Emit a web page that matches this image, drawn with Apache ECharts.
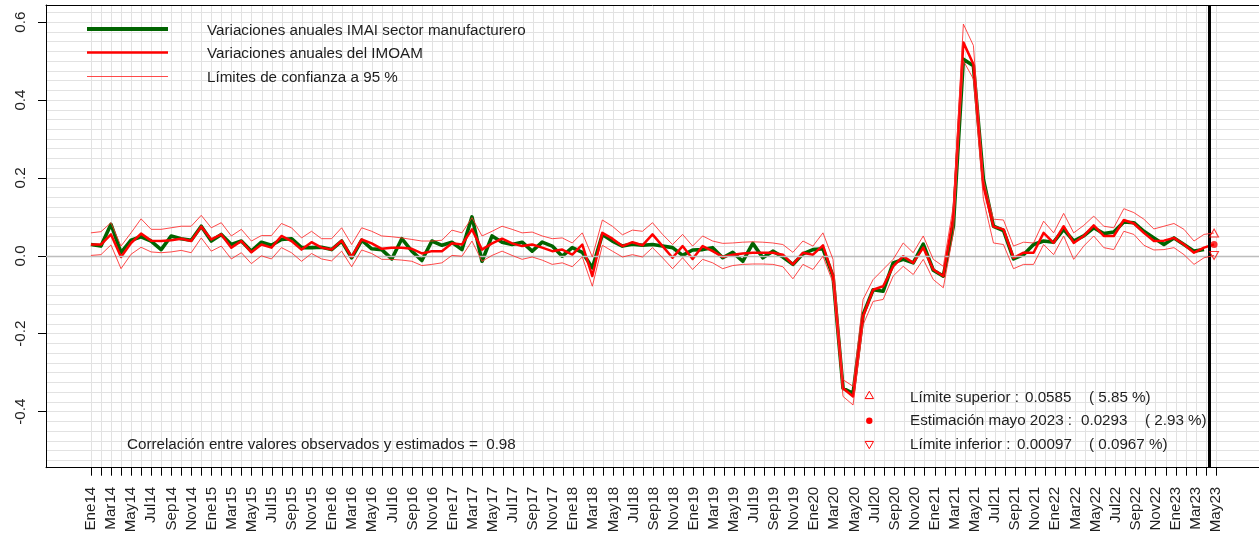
<!DOCTYPE html>
<html>
<head>
<meta charset="utf-8">
<script src="https://cdn.jsdelivr.net/npm/echarts@6/dist/echarts.min.js"></script>
<style>
html,body{margin:0;padding:0;background:#fff;}
#chart{width:1259px;height:537px;}
</style>
</head>
<body>
<div id="chart"></div>
<script>
// ---- Data (monthly, Ene 2014 .. May 2023) ----
const monthNames = ['Ene','Feb','Mar','Abr','May','Jun','Jul','Ago','Sep','Oct','Nov','Dic'];
const firstYear = 14;
const nMonths = 113;

// Variaciones anuales IMAI sector manufacturero (observed, Ene14..Abr23)
const imai = [
 0.029,0.025,0.081,0.008,0.040,0.049,0.038,0.016,0.051,0.044,0.040,0.076,
 0.038,0.055,0.029,0.038,0.012,0.035,0.027,0.042,0.044,0.021,0.021,0.022,
 0.016,0.038,-0.005,0.040,0.018,0.016,-0.008,0.044,0.012,-0.012,0.038,0.027,
 0.035,0.016,0.100,-0.014,0.051,0.035,0.029,0.035,0.012,0.035,0.025,-0.001,
 0.021,0.009,-0.031,0.055,0.038,0.025,0.030,0.027,0.029,0.025,0.021,0.001,
 0.015,0.016,0.021,-0.005,0.009,-0.014,0.032,-0.005,0.012,-0.003,-0.022,0.005,
 0.016,0.018,-0.052,-0.340,-0.353,-0.151,-0.087,-0.091,-0.018,-0.009,-0.018,0.030,
 -0.037,-0.052,0.076,0.505,0.488,0.196,0.076,0.065,-0.008,0.003,0.029,0.038,
 0.035,0.068,0.038,0.051,0.072,0.057,0.061,0.087,0.085,0.063,0.046,0.029,
 0.046,0.029,0.012,0.016
];

// Variaciones anuales del IMOAM (estimated, Ene14..May23)
const imoam = [
 0.029,0.029,0.055,-0.003,0.033,0.057,0.039,0.038,0.040,0.044,0.038,0.075,
 0.042,0.055,0.021,0.038,0.009,0.029,0.021,0.051,0.038,0.016,0.035,0.021,
 0.016,0.039,-0.003,0.042,0.032,0.018,0.021,0.021,0.018,0.006,0.012,0.012,
 0.032,0.029,0.068,0.016,0.032,0.044,0.032,0.025,0.029,0.021,0.012,0.016,
 0.003,0.029,-0.052,0.059,0.044,0.025,0.035,0.027,0.055,0.025,-0.005,0.025,
 -0.008,0.025,0.012,-0.003,0.003,0.006,0.008,0.008,0.008,0.003,-0.022,0.008,
 0.003,0.027,-0.052,-0.340,-0.361,-0.155,-0.087,-0.078,-0.027,-0.001,-0.018,0.021,
 -0.035,-0.052,0.102,0.548,0.492,0.179,0.075,0.068,-0.005,0.008,0.008,0.059,
 0.033,0.076,0.033,0.051,0.078,0.051,0.051,0.092,0.083,0.059,0.038,0.039,
 0.046,0.029,0.008,0.021,0.0293
];

// Límites de confianza a 95 %
const upper = [
 0.059,0.062,0.085,0.025,0.059,0.095,0.068,0.068,0.072,0.076,0.076,0.104,
 0.072,0.085,0.051,0.068,0.038,0.052,0.052,0.083,0.072,0.046,0.063,0.044,
 0.044,0.072,0.029,0.072,0.063,0.051,0.049,0.046,0.042,0.038,0.038,0.040,
 0.066,0.059,0.098,0.051,0.063,0.076,0.068,0.059,0.061,0.051,0.044,0.046,
 0.033,0.059,-0.003,0.092,0.076,0.054,0.066,0.063,0.085,0.055,0.029,0.055,
 0.025,0.051,0.038,0.032,0.033,0.035,0.036,0.035,0.033,0.029,0.009,0.038,
 0.025,0.059,-0.009,-0.318,-0.335,-0.112,-0.061,-0.035,-0.009,0.033,0.008,0.051,
 -0.009,-0.027,0.128,0.595,0.540,0.196,0.094,0.092,0.025,0.035,0.033,0.089,
 0.059,0.109,0.059,0.078,0.102,0.076,0.072,0.121,0.111,0.094,0.069,0.076,
 0.083,0.068,0.038,0.055,0.0585
];
const lower = [
 0.001,0.003,0.028,-0.033,0.004,0.022,0.010,0.008,0.010,0.014,0.008,0.046,
 0.012,0.025,-0.008,0.008,-0.020,0.000,-0.008,0.021,0.008,-0.014,0.006,-0.008,
 -0.013,0.012,-0.028,0.015,0.006,-0.009,-0.009,-0.011,-0.014,-0.025,-0.022,-0.018,
 0.001,-0.001,0.038,-0.014,0.001,0.012,0.001,-0.009,-0.003,-0.011,-0.022,-0.018,
 -0.028,-0.003,-0.078,0.027,0.012,-0.003,0.003,-0.003,0.021,-0.005,-0.033,-0.005,
 -0.035,-0.009,-0.018,-0.033,-0.025,-0.022,-0.021,-0.021,-0.022,-0.028,-0.059,-0.022,
 -0.035,-0.001,-0.069,-0.361,-0.383,-0.177,-0.117,-0.112,-0.052,-0.027,-0.048,-0.009,
 -0.061,-0.082,0.059,0.501,0.454,0.145,0.033,0.029,-0.033,-0.022,-0.022,0.029,
 0.003,0.051,-0.009,0.025,0.051,0.021,0.016,0.063,0.055,0.027,0.015,0.016,
 0.021,0.003,-0.022,-0.005,0.00097
];

// Estimate for mayo 2023
const estimate = { upper: 0.0585, value: 0.0293, lower: 0.00097 };
const yTicks = [-0.4, -0.2, 0.0, 0.2, 0.4, 0.6];
const correlation = 0.98;

// ---- Build labels ----
const monthLabels = [];
for (let i = 0; i < nMonths; i++) {
  monthLabels.push(monthNames[i % 12] + String(firstYear + Math.floor(i / 12)));
}
const toPairs = arr => arr.map((v, i) => [i, v]);
const lastIdx = nMonths - 1;

const FONT = '"Liberation Sans", Arial, Helvetica, sans-serif';
const FS = 15.2;
const FONTSTR = FS + 'px ' + FONT;
const TXT = '#1e1e1e';
const GRIDC = '#e2e2e2';

// Layout (pixels)
const L = 46, T = 5, PW = 1215, PH = 462.7;
const xMin = -4.48, xMax = 116.48;
const yMin = -0.544, yMax = 0.644;
const pxPerX = PW / (xMax - xMin);
const pxPerY = PH / (yMax - yMin);
const xPix = v => L + (v - xMin) * pxPerX;
const yPix = v => T + (yMax - v) * pxPerY;

const chart = echarts.init(document.getElementById('chart'), null, { renderer: 'canvas' });

const txt = (x, y, s) => ({ type: 'text', x: x, y: y, z: 100,
  style: { text: s, font: FONTSTR, fill: TXT, verticalAlign: 'middle' } });

const option = {
  animation: false,
  backgroundColor: '#ffffff',
  grid: [
    { left: L, top: T, width: PW, height: PH, containLabel: false },
    { left: xPix(0), top: T, width: xPix(lastIdx) - xPix(0), height: PH, containLabel: false },
    { left: L, top: yPix(0.625), width: PW, height: yPix(-0.525) - yPix(0.625), containLabel: false }
  ],
  xAxis: [
    { gridIndex: 0, type: 'value', min: xMin, max: xMax, position: 'bottom',
      axisLine: { show: true, onZero: false, lineStyle: { color: '#000', width: 1 } },
      axisTick: { show: false }, axisLabel: { show: false }, splitLine: { show: false } },
    { gridIndex: 0, type: 'value', min: xMin, max: xMax, position: 'top',
      axisLine: { show: true, onZero: false, lineStyle: { color: '#000', width: 1 } },
      axisTick: { show: false }, axisLabel: { show: false }, splitLine: { show: false } },
    { gridIndex: 1, type: 'value', min: 0, max: lastIdx, interval: 1, position: 'bottom',
      axisLine: { show: false, onZero: false },
      axisTick: { show: true, length: 8, lineStyle: { color: '#000', width: 1 } },
      axisLabel: { show: true, rotate: 90, margin: 19, fontSize: FS, fontFamily: FONT, color: TXT,
        formatter: v => { const k = Math.round(v); return (k % 2 === 0) ? monthLabels[k] : ''; } },
      splitLine: { show: true, lineStyle: { color: GRIDC, width: 1 } } },
    { gridIndex: 2, type: 'value', min: 0, max: 1, show: false }
  ],
  yAxis: [
    { gridIndex: 0, type: 'value', min: yMin, max: yMax,
      axisLine: { show: true, onZero: false, lineStyle: { color: '#000', width: 1 } },
      axisTick: { show: true, length: 8, customValues: yTicks, lineStyle: { color: '#000', width: 1 } },
      axisLabel: { show: true, customValues: yTicks, rotate: 90, margin: 18, fontSize: FS, fontFamily: FONT, color: TXT,
        formatter: v => (Math.abs(v) < 1e-9 ? 0 : v).toFixed(1) },
      splitLine: { show: false } },
    { gridIndex: 1, type: 'value', min: yMin, max: yMax, show: false },
    { gridIndex: 2, type: 'value', min: -0.525, max: 0.625, interval: 0.025,
      axisLine: { show: false }, axisTick: { show: false }, axisLabel: { show: false },
      splitLine: { show: true, lineStyle: { color: GRIDC, width: 1 } } }
  ],
  series: [
    { name: 'ref', type: 'line', xAxisIndex: 0, yAxisIndex: 0, data: [], z: 1, silent: true,
      markLine: { silent: true, symbol: 'none', label: { show: false }, animation: false,
        data: [ { yAxis: 0, lineStyle: { color: '#bdbdbd', width: 1.3, type: 'solid' } } ] } },
    { name: 'Variaciones anuales IMAI sector manufacturero', type: 'line', xAxisIndex: 0, yAxisIndex: 0,
      data: toPairs(imai), showSymbol: false, symbol: 'none', clip: false, z: 3,
      lineStyle: { color: '#006400', width: 3.6, join: 'round' } },
    { name: 'Variaciones anuales del IMOAM', type: 'line', xAxisIndex: 0, yAxisIndex: 0,
      data: toPairs(imoam), showSymbol: false, symbol: 'none', clip: false, z: 4,
      lineStyle: { color: '#ff0000', width: 2.5, join: 'round' } },
    { name: 'Límite superior', type: 'line', xAxisIndex: 0, yAxisIndex: 0,
      data: toPairs(upper), showSymbol: false, symbol: 'none', clip: false, z: 5,
      lineStyle: { color: '#ff2a2a', width: 1, opacity: 0.85 } },
    { name: 'Límite inferior', type: 'line', xAxisIndex: 0, yAxisIndex: 0,
      data: toPairs(lower), showSymbol: false, symbol: 'none', clip: false, z: 5,
      lineStyle: { color: '#ff2a2a', width: 1, opacity: 0.85 } },
    { name: 'vline', type: 'line', xAxisIndex: 0, yAxisIndex: 0, data: [], z: 6, silent: true,
      markLine: { silent: true, symbol: 'none', label: { show: false }, animation: false,
        data: [ { xAxis: lastIdx - 0.5, lineStyle: { color: '#000', width: 3, type: 'solid' } } ] } },
    { name: 'est_sup', type: 'scatter', xAxisIndex: 0, yAxisIndex: 0, z: 7,
      data: [[lastIdx, estimate.upper]], symbol: 'triangle', symbolSize: [9, 8],
      itemStyle: { color: 'rgba(0,0,0,0)', borderColor: '#ff0000', borderWidth: 1 } },
    { name: 'est', type: 'scatter', xAxisIndex: 0, yAxisIndex: 0, z: 7,
      data: [[lastIdx, estimate.value]], symbol: 'circle', symbolSize: 7,
      itemStyle: { color: '#ff0000' } },
    { name: 'est_inf', type: 'scatter', xAxisIndex: 0, yAxisIndex: 0, z: 7,
      data: [[lastIdx, estimate.lower]], symbol: 'triangle', symbolRotate: 180, symbolSize: [9, 8],
      itemStyle: { color: 'rgba(0,0,0,0)', borderColor: '#ff0000', borderWidth: 1 } }
  ],
  graphic: [
    // legend
    { type: 'line', shape: { x1: 87, y1: 29, x2: 168, y2: 29 }, style: { stroke: '#006400', lineWidth: 4 }, z: 100 },
    { type: 'line', shape: { x1: 87, y1: 52.5, x2: 168, y2: 52.5 }, style: { stroke: '#ff0000', lineWidth: 2.5 }, z: 100 },
    { type: 'line', shape: { x1: 87, y1: 76.5, x2: 168, y2: 76.5 }, style: { stroke: '#ff2a2a', lineWidth: 1, opacity: 0.85 }, z: 100 },
    txt(207, 31, 'Variaciones anuales IMAI sector manufacturero'),
    txt(207, 54, 'Variaciones anuales del IMOAM'),
    txt(207, 78, 'Límites de confianza a 95 %'),
    // correlation
    txt(127, 445, 'Correlación entre valores observados y estimados =  ' + correlation.toFixed(2)),
    // estimate box markers
    { type: 'polygon', z: 100, shape: { points: [[869.3, 391.3], [865.1, 398.6], [873.5, 398.6]] }, style: { fill: 'none', stroke: '#ff0000', lineWidth: 1 } },
    { type: 'circle', z: 100, shape: { cx: 869.3, cy: 420.7, r: 3.2 }, style: { fill: '#ff0000' } },
    { type: 'polygon', z: 100, shape: { points: [[865.1, 441.4], [873.5, 441.4], [869.3, 448.7]] }, style: { fill: 'none', stroke: '#ff0000', lineWidth: 1 } },
    // estimate box texts
    txt(910, 397.5, 'Límite superior :'),
    txt(1025, 397.5, String(estimate.upper)),
    txt(1089, 397.5, '( 5.85 %)'),
    txt(910, 421, 'Estimación mayo 2023 :'),
    txt(1081, 421, String(estimate.value)),
    txt(1145, 421, '( 2.93 %)'),
    txt(910, 444.5, 'Límite inferior :'),
    txt(1017, 444.5, String(estimate.lower)),
    txt(1089, 444.5, '( 0.0967 %)')
  ]
};
chart.setOption(option);
</script>
</body>
</html>
